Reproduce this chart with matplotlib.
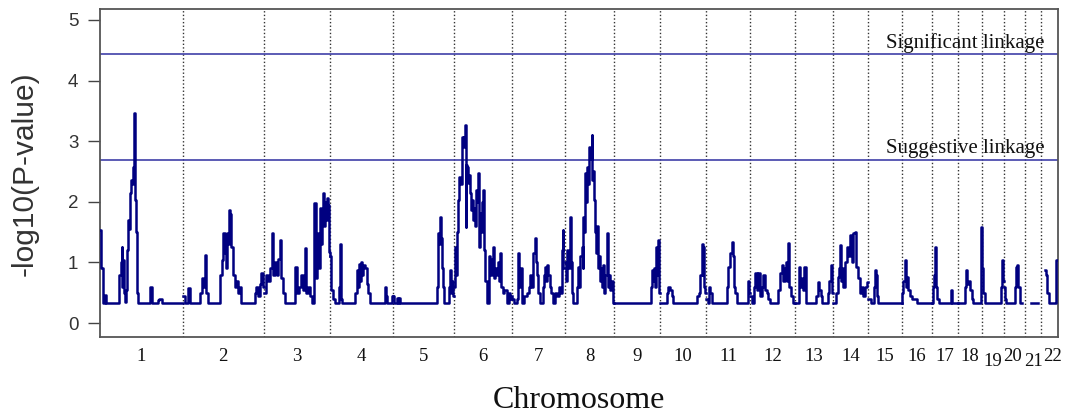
import numpy as np
import matplotlib
matplotlib.use("Agg")
from matplotlib import pyplot as plt
from matplotlib import transforms

plt.rcParams['font.family'] = ['Liberation Sans', 'DejaVu Sans']

chrom_labels = [str(i) for i in range(1, 23)]
chrom_len = [289, 285, 231, 222, 214, 203, 184, 173, 160, 161, 154,
             158, 134, 120, 119, 105, 93, 85, 76, 75, 53, 62]

sig_level = 4.43
sug_level = 2.69

# marker positions (cM from start of chromosome) and -log10(p)
c1_pos = [0, 2, 7, 10, 17, 21, 67, 72, 76, 78, 81, 84, 88, 91, 94, 96, 99, 102, 105, 108,
          112, 116, 119, 120, 122, 124, 126, 129, 131, 134, 175, 181, 183, 203, 207, 217, 289]
c1_val = [1.53, 0.9, 0.9, 0.33, 0.46, 0.33, 0.8, 1.0, 1.26, 0.6, 1.04, 0.5, 0.35, 0.55, 0.8, 1.2, 1.7, 1.55, 2.14, 2.36,
          2.3, 2.57, 2.62, 3.46, 2.5, 2.03, 1.5, 0.8, 0.5, 0.33, 0.6, 0.45, 0.33, 0.38, 0.4, 0.33, 0.33]

c2_pos = [0, 8, 19.6, 25.5, 60.5, 66.5, 71, 78, 81.5, 89.6, 130.5, 136.5, 142, 148, 151.5, 155, 158.5,
          163, 166.6, 171.5, 177, 183, 189, 194.6, 200.5, 206.5, 253, 259, 264.6, 270.5, 276.5, 281, 285]
c2_val = [0.45, 0.33, 0.58, 0.33, 0.5, 0.75, 0.6, 1.12, 0.5, 0.33, 0.8, 1.04, 1.48, 1.15, 0.9, 1.48, 1.3,
          1.86, 1.8, 1.26, 0.8, 0.6, 0.7, 0.5, 0.6, 0.33, 0.5, 0.6, 0.45, 0.64, 0.82, 0.6, 0.6]

c3_pos = [0, 7, 14, 21, 27, 31.5, 38.5, 45.5, 49, 56, 61, 66.5, 73.5, 110, 115.5, 122.5, 129.5, 136.5, 143.5, 149,
          156, 163, 168, 176.5, 182, 187, 191, 194.5, 198, 201, 204, 207.5, 211, 214.5, 218, 221.5, 225.5, 228.5, 231]
c3_val = [0.5, 0.8, 0.7, 0.9, 1.48, 0.8, 1.0, 0.8, 1.05, 1.37, 0.75, 0.5, 0.33, 0.93, 0.5, 0.6, 0.8, 0.55, 1.24, 0.5,
          0.6, 0.45, 0.33, 1.98, 0.75, 1.0, 1.48, 0.9, 1.9, 1.3, 1.85, 2.14, 1.6, 2.0, 1.7, 2.07, 1.95, 1.17, 1.1]

c4_pos = [0, 2.5, 5, 10.5, 17.5, 33, 35, 38.5, 42, 89, 94.5, 99, 101.5, 105, 108.5, 113, 116.5,
          122.5, 128.5, 133, 140, 192.5, 196, 199.5, 219, 222]
c4_val = [1.1, 0.9, 0.55, 0.4, 0.33, 0.6, 1.3, 0.4, 0.33, 0.5, 0.87, 0.6, 0.98, 0.7, 1.0, 0.8, 0.96,
          0.9, 0.65, 0.5, 0.33, 0.6, 0.45, 0.33, 0.44, 0.44]

c5_pos = [0, 3.5, 13, 16.5, 20, 23.5, 152, 155.5, 159, 164.5, 168, 171.5, 175, 179, 195, 198.5, 202, 206.5, 210, 214]
c5_val = [0.44, 0.33, 0.42, 0.33, 0.42, 0.33, 0.6, 1.48, 1.3, 1.75, 1.4, 0.9, 0.6, 0.33, 0.6, 0.87, 0.5, 0.7, 0.45, 0.45]

c6_pos = [0, 2.5, 6, 9.5, 14, 17.5, 21, 26, 29.5, 32, 35, 37.5, 40, 42, 45.5, 49, 52.5, 56, 59.5, 63,
          66.5, 70.5, 74, 77.5, 81, 84, 87.5, 91, 95, 98, 101.5, 105, 108.5, 113.5, 120, 123, 126.5, 131,
          135.5, 139, 142.5, 148.5, 153, 157.5, 161, 165, 170.5, 175.5, 183.5, 190, 195, 200.5, 203]
c6_val = [0.6, 1.26, 0.8, 1.5, 2.03, 2.41, 2.3, 3.07, 3.0, 3.07, 2.9, 3.27, 1.59, 2.6, 2.58, 2.31, 2.45, 2.14, 1.86, 2.03,
          1.7, 1.9, 1.6, 2.2, 2.0, 2.47, 1.26, 1.81, 1.5, 2.0, 2.19, 1.2, 0.7, 0.33, 0.6, 1.1, 0.8, 1.05,
          1.26, 0.75, 0.9, 0.8, 1.0, 0.7, 1.15, 0.6, 0.5, 0.55, 0.33, 0.5, 0.4, 0.45, 0.45]

c7_pos = [0, 6, 16.5, 21, 25, 28, 33, 41, 51.5, 58.5, 62, 67, 73.5, 79.5, 83, 86.5, 91, 97, 107.5, 111,
          114.5, 119, 123, 126.5, 132, 137, 143.5, 149.5, 156.5, 163.5, 168.5, 173, 176.5, 179, 184]
c7_val = [0.4, 0.33, 0.4, 1.15, 0.6, 0.9, 0.33, 0.45, 0.5, 0.6, 0.8, 0.6, 1.15, 1.4, 1.0, 0.8, 0.5, 0.33, 0.6, 0.8,
          0.93, 0.7, 0.96, 0.8, 0.6, 0.5, 0.33, 0.5, 0.45, 0.6, 0.5, 1.2, 1.53, 0.9, 0.9]

c8_pos = [0, 3.5, 9, 12, 17.5, 21, 24.5, 30, 41, 45.5, 50, 54, 58.5, 62, 64, 66.5, 70, 73.5, 77, 80.5,
          84, 87.5, 93.5, 95.5, 99, 101.5, 105, 108.5, 112, 115.5, 119, 122.5, 126, 129.5, 134, 138, 141.5,
          146, 149.5, 153, 157.5, 163, 169, 173]
c8_val = [1.0, 0.7, 1.2, 0.9, 1.75, 1.0, 0.5, 0.33, 0.6, 0.93, 0.6, 1.1, 1.26, 0.9, 1.75, 1.5, 2.47, 2.0, 2.58, 2.3,
          2.91, 2.7, 3.1, 2.36, 2.5, 2.03, 1.5, 1.15, 1.6, 0.9, 1.1, 0.7, 0.9, 0.6, 0.96, 0.5, 0.8,
          1.48, 0.6, 0.8, 0.55, 0.7, 0.33, 0.33]

c9_pos = [0, 127, 131, 134.5, 139, 142.5, 147, 150.5, 154, 157.5, 160]
c9_val = [0.33, 0.6, 0.87, 0.7, 0.9, 0.6, 1.26, 0.8, 1.37, 0.5, 0.5]

c10_pos = [0, 24.5, 29, 35, 41, 46.5, 131, 135.5, 140, 146, 149, 151.5, 155, 158.5, 161]
c10_val = [0.33, 0.5, 0.6, 0.55, 0.45, 0.33, 0.45, 0.5, 0.8, 1.3, 0.8, 1.26, 0.6, 0.5, 0.5]

c11_pos = [0, 7, 11.5, 15.5, 21, 72.5, 78, 84, 90, 93.5, 98, 101.5, 107.5, 146, 150.5, 154]
c11_val = [0.4, 0.33, 0.6, 0.5, 0.33, 0.6, 0.93, 1.15, 1.34, 1.1, 0.6, 0.5, 0.33, 0.7, 0.5, 0.5]

c12_pos = [0, 7, 14, 17.5, 23.5, 29, 35, 42, 46.5, 51.5, 58.5, 64, 70, 99.5, 105, 111, 115.5,
           121.5, 126, 130.5, 134, 138, 145, 151.5, 158]
c12_val = [0.45, 0.33, 0.6, 0.82, 0.55, 0.82, 0.45, 0.6, 0.8, 0.55, 0.5, 0.4, 0.33, 0.55, 0.82, 0.96, 0.7,
           0.9, 1.0, 0.7, 1.32, 0.6, 0.45, 0.33, 0.33]

c13_pos = [0, 15.5, 19, 24.5, 29, 33, 37, 73.5, 81.5, 85.5, 91, 96, 116.5, 120, 126, 130.5, 134]
c13_val = [0.33, 0.93, 0.6, 0.75, 0.55, 0.93, 0.33, 0.45, 0.68, 0.55, 0.45, 0.33, 0.5, 0.7, 0.96, 0.5, 0.5]

c14_pos = [0, 9.5, 16.5, 20, 23.5, 27, 31.5, 35, 41, 47, 52.5, 58.5, 64.5, 70, 76, 81, 86.5, 93.5,
           99.5, 105, 111, 117, 120]
c14_val = [0.33, 0.5, 0.76, 0.9, 1.29, 0.7, 0.9, 0.6, 1.0, 1.26, 1.1, 1.45, 1.0, 1.48, 1.5, 0.93, 0.75, 0.49,
           0.6, 0.45, 0.6, 0.68, 0.68]

c15_pos = [0, 11.5, 22, 25.5, 30, 33.5, 37, 119]
c15_val = [0.4, 0.33, 0.6, 0.87, 0.8, 0.45, 0.33, 0.33]

c16_pos = [0, 3, 6.5, 11.5, 15, 18.5, 23, 29, 36, 52.5, 105]
c16_val = [0.33, 0.5, 0.7, 1.04, 0.6, 0.76, 0.55, 0.45, 0.4, 0.33, 0.33]

c17_pos = [0, 3.5, 8, 11.5, 15, 19.5, 24.5, 67.5, 72, 93]
c17_val = [0.33, 0.6, 0.8, 1.26, 0.6, 0.4, 0.33, 0.54, 0.33, 0.33]

c18_pos = [0, 23.5, 29.5, 33, 37.5, 42.5, 48, 52.5, 80.5, 83, 85]
c18_val = [0.33, 0.6, 0.87, 0.65, 0.7, 0.55, 0.4, 0.33, 1.59, 0.9, 0.9]

c19_pos = [0, 3, 8, 66.5, 70, 73.5, 76]
c19_val = [0.9, 0.5, 0.33, 0.6, 1.04, 0.7, 0.7]

c20_pos = [0, 4, 8.5, 38.5, 43.5, 47, 50.5, 55, 64.5]
c20_val = [0.6, 0.4, 0.33, 0.6, 0.93, 0.96, 0.6, 0.33, 0.33]

c21_pos = [21, 44]
c21_val = [0.33, 0.33]

c22_pos = [15, 20.5, 24, 29, 52, 54.5, 60.5]
c22_val = [0.87, 0.8, 0.5, 0.33, 0.33, 1.04, 1.04]

pos_list = [c1_pos, c2_pos, c3_pos, c4_pos, c5_pos, c6_pos, c7_pos, c8_pos, c9_pos, c10_pos, c11_pos,
            c12_pos, c13_pos, c14_pos, c15_pos, c16_pos, c17_pos, c18_pos, c19_pos, c20_pos, c21_pos, c22_pos]
val_list = [c1_val, c2_val, c3_val, c4_val, c5_val, c6_val, c7_val, c8_val, c9_val, c10_val, c11_val,
            c12_val, c13_val, c14_val, c15_val, c16_val, c17_val, c18_val, c19_val, c20_val, c21_val, c22_val]

ends = np.cumsum(chrom_len)
starts = ends - np.array(chrom_len)
mids = (starts + ends) / 2

fig = plt.figure(figsize=(10.73, 4.16), dpi=100)
ax = fig.add_axes([0.0932, 0.1899, 0.8931, 0.7885])

for s, p, v in zip(starts, pos_list, val_list):
    ax.plot(s + np.array(p), v, color='#000080', lw=1.8, drawstyle='steps-post', zorder=3)

for b in ends[:-1]:
    ax.axvline(b, color='#333333', lw=1, ls=(0, (1, 1.6)), zorder=1)

ax.axhline(sig_level, color='#4040a8', lw=1.2, zorder=2)
ax.axhline(sug_level, color='#4040a8', lw=1.2, zorder=2)

ax.text(0.986, sig_level + 0.11, 'Significant linkage', transform=ax.get_yaxis_transform(),
        ha='right', va='baseline', fontsize=15, family='Liberation Serif', color='#111111')
ax.text(0.986, sug_level + 0.11, 'Suggestive linkage', transform=ax.get_yaxis_transform(),
        ha='right', va='baseline', fontsize=15, family='Liberation Serif', color='#111111')

ax.set_xlim(0, ends[-1])
ax.set_ylim(-0.23, 5.18)

ax.set_xticks(mids)
ax.set_xticklabels(chrom_labels, fontfamily='Liberation Serif', fontsize=13.5, color='#111111')
ax.tick_params(axis='x', length=0, pad=8)
# 19 and 21 sit a little lower, the last few nudged apart like the original
shifts = {'19': (0, -5), '20': (-2, 0), '21': (0, -5), '22': (3, 0)}
for lab in ax.get_xticklabels():
    if lab.get_text() in shifts:
        dx, dy = shifts[lab.get_text()]
        lab.set_transform(lab.get_transform() + transforms.ScaledTranslation(dx / 100, dy / 100, fig.dpi_scale_trans))

ax.set_yticks(range(6))
ax.tick_params(axis='y', length=8.6, width=1, color='#444444', labelsize=13.5, pad=7, labelcolor='#333333')

for sp in ax.spines.values():
    sp.set_color('#555555')
    sp.set_linewidth(1.3)

fig.text(25 / 1073, 1 - 174 / 416, '-log10(P-value)', rotation=90, ha='center', va='center',
         fontsize=21.5, color='#333333')
fig.text(579 / 1073, 1 - 408 / 416, 'Chromosome', ha='center', va='baseline',
         fontsize=23, family='Liberation Serif', color='#111111')

plt.savefig('out.png', dpi=100)
